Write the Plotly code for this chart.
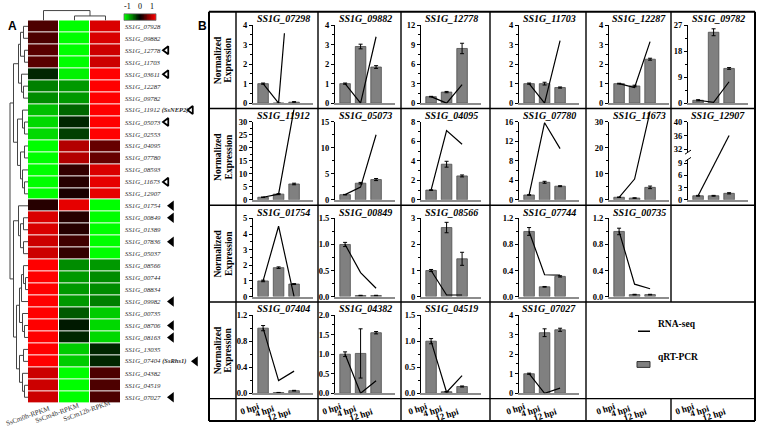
import plotly.graph_objects as go
import numpy as np

W, H = 757, 431
SERIF = "Liberation Serif"
SANS = "Liberation Sans"

def px(x):
    return x / W

def py(y):
    return 1 - y / H

# ---------------- Panel A data ----------------
genes_A = ["SS1G_07928", "SS1G_09882", "SS1G_12778", "SS1G_11703", "SS1G_03611", "SS1G_12287",
           "SS1G_09782", "SS1G_11912", "SS1G_05073", "SS1G_02553", "SS1G_04095", "SS1G_07780",
           "SS1G_08593", "SS1G_11673", "SS1G_12907", "SS1G_01754", "SS1G_00849", "SS1G_01389",
           "SS1G_07836", "SS1G_05037", "SS1G_08566", "SS1G_00744", "SS1G_08834", "SS1G_09982",
           "SS1G_00735", "SS1G_08706", "SS1G_08163", "SS1G_13035", "SS1G_07404", "SS1G_04382",
           "SS1G_04519", "SS1G_07027"]
rpkm_cols = ["SsCm0h-RPKM", "SsCm4h-RPKM", "SsCm12h-RPKM"]
z_0h = [0.3, 0.3, 0.35, 0.35, -0.15, -0.5, -0.55, -0.75, -0.85, -0.85, -1, -1, -1, -1, -1,
        0.15, 0.85, 0.85, 0.8, 0.8, 1, 1, 1, 1, 1, 1, 1, 1, 1, 0.8, 0.8, 0.8]
z_4h = [-1, -1, -1, -1, -0.95, -0.6, -0.6, -0.4, -0.15, -0.25, 0.7, 0.7, 0.2, 0.15, 0.1,
        0.9, 0.15, 0.15, 0.25, 0.2, -0.55, -0.6, -0.6, -0.6, -0.35, -0.1, -0.15, -0.8, -0.8, -1, -1, -1]
z_12h = [0.85, 0.85, 0.8, 0.8, 1, 1, 1, 1, 1, 1, 0.4, 0.4, 0.85, 0.9, 0.9,
         -1, -1, -1, -1, -1, -0.6, -0.55, -0.55, -0.5, -0.8, -0.85, -0.85, -0.15, -0.15, 0.3, 0.3, 0.3]
colorbar_ticks = [-1, 0, 1]
open_marks = ["SS1G_12778", "SS1G_03611", "SS1G_11912", "SS1G_05073", "SS1G_11673"]
filled_marks = ["SS1G_01754", "SS1G_00849", "SS1G_07836", "SS1G_09982", "SS1G_08706",
                "SS1G_08163", "SS1G_07404", "SS1G_07027"]
gene_alias = {"SS1G_11912": "SsNEP2", "SS1G_07404": "SsRhs1"}

# dendrogram merges: (a, b, height in px)
row_linkage = [(0, 1, 4), (2, 3, 3), (32, 33, 7), (5, 6, 4), (4, 35, 6), (34, 36, 9),
               (8, 9, 3), (7, 38, 5), (10, 11, 3), (13, 14, 3), (12, 41, 5), (40, 42, 7),
               (39, 43, 10), (37, 44, 14),
               (16, 17, 4), (18, 19, 4), (46, 47, 7), (15, 48, 9), (21, 22, 2), (20, 50, 4),
               (23, 51, 6), (25, 26, 3), (24, 53, 5), (52, 54, 8), (27, 28, 4), (30, 31, 3),
               (29, 57, 5), (56, 58, 8), (55, 59, 11), (49, 60, 14), (45, 61, 17.5)]
col_linkage = [(1, 2, 4.5), (0, 3, 10)]

# ---------------- Panel B data ----------------
genes_B = ["SS1G_07298", "SS1G_09882", "SS1G_12778", "SS1G_11703", "SS1G_12287", "SS1G_09782",
           "SS1G_11912", "SS1G_05073", "SS1G_04095", "SS1G_07780", "SS1G_11673", "SS1G_12907",
           "SS1G_01754", "SS1G_00849", "SS1G_08566", "SS1G_07744", "SS1G_00735",
           "SS1G_07404", "SS1G_04382", "SS1G_04519", "SS1G_07027"]
panel_row = [0] * 6 + [1] * 6 + [2] * 5 + [3] * 4
panel_col = list(range(6)) * 2 + list(range(5)) + list(range(4))
qpcr = [[1.0, 0.0, 0.05], [1.0, 2.9, 1.85], [1.0, 1.7, 8.4], [1.0, 1.0, 0.8], [1.0, 0.88, 2.25],
        [1.0, 24.5, 12.0],
        [1.0, 2.2, 6.1], [1.0, 3.2, 3.9], [1.0, 3.65, 2.45], [1.0, 3.6, 2.8], [1.0, 0.7, 4.8],
        [1.0, 1.0, 1.6],
        [1.0, 1.85, 0.8], [1.0, 0.02, 0.02], [1.0, 2.65, 1.45], [1.0, 0.15, 0.31], [1.0, 0.03, 0.03],
        [1.0, 0.01, 0.04], [1.0, 1.02, 1.55], [1.0, 0.03, 0.13], [1.0, 3.1, 3.25]]
qpcr_err = [[0.03, 0, 0.03], [0.03, 0.12, 0.07], [0.05, 0.1, 0.8], [0.03, 0.07, 0.03], [0.02, 0.04, 0.05],
            [0.2, 1.2, 0.3],
            [0.1, 0.2, 0.3], [0.05, 0.15, 0.2], [0.03, 0.3, 0.1], [0.05, 0.2, 0.1], [0.1, 0.1, 0.5],
            [0.1, 0.1, 0.15],
            [0.05, 0.05, 0.03], [0.04, 0.005, 0.005], [0.04, 0.2, 0.25], [0.06, 0.005, 0.01],
            [0.05, 0.005, 0.005],
            [0.04, 0.003, 0.005], [0.06, 0.63, 0.03], [0.05, 0.005, 0.01], [0.03, 0.2, 0.08]]
rnaseq = [[1, 0, 9.5], [1, 0, 3.4], [1, 0, 2.85], [1, 0, 3.2], [1, 0.8, 3.15], [1, 0.3, 7.4],
          [1, 2.2, 35], [1, 2.45, 12.5], [1, 7.1, 5.7], [1, 15.8, 10.5], [1, 8, 34], [1, 8.3, 36],
          [1, 4.5, 0.0], [1.0, 0.46, 0.16], [1, 0.06, 0.06], [1, 0.335, 0.33], [1, 0.19, 0.12],
          [1, 0.195, 0.34], [1, 0.0, 0.32], [1, 0.02, 0.34], [1, 0.0, 0.26]]
y_max = [4, 4, 12, 4, 4, 27, 30, 15, 8, 16, 30, 40, 5, 1.5, 3, 1.2, 1.2, 1.2, 2.0, 1.5, 4]
y_dtick = [1, 1, 3, 1, 1, 9, 5, 5, 2, 4, 10, None, 1, 0.5, 1, 0.4, 0.4, 0.4, 0.5, 0.5, 1]
broken_ticks = [0, 3, 6, 9, 32, 36, 40]
time_labels = ["0 hpi", "4 hpi", "12 hpi"]

# ---------------- geometry ----------------
HM_L, HM_R, HM_T, HM_B = 28, 121, 15.7, 407.7
n_rows = len(genes_A)
row_h = (HM_B - HM_T) / n_rows
col_w = (HM_R - HM_L) / 3

grid_x = [209, 236, 318, 401, 490, 586, 671, 755]
grid_y = [7, 106, 205, 304, 403, 426]
line_clip_top = [29, 107, 206, 305]
col_axis_x = [253, 335, 421, 519, 609, 688]
XW = 60
PX_PER = 15.5
X0 = -0.65

shapes = []
annotations = []


def seg(x0, y0, x1, y1, color="#444", width=1):
    shapes.append(dict(type="line", xref="paper", yref="paper", x0=px(x0), y0=py(y0),
                       x1=px(x1), y1=py(y1), line=dict(color=color, width=width)))


def dendro(linkage, n, leaf_pos):
    pos = {i: leaf_pos[i] for i in range(n)}
    hgt = {i: 0.0 for i in range(n)}
    segs = []
    for k, (a, b, h) in enumerate(linkage):
        segs.append((pos[a], hgt[a], pos[a], h))
        segs.append((pos[b], hgt[b], pos[b], h))
        segs.append((pos[a], h, pos[b], h))
        pos[n + k] = (pos[a] + pos[b]) / 2
        hgt[n + k] = h
    return segs


fig = go.Figure()
CSCALE = [[0, "#00ff00"], [0.5, "#000000"], [1, "#ff0000"]]

# ---------------- heatmap ----------------
z = [[a, b, c] for a, b, c in zip(z_0h, z_4h, z_12h)]
fig.add_trace(go.Heatmap(
    z=z, x=[0, 1, 2], y=genes_A, colorscale=CSCALE, zmin=-1, zmax=1, showscale=False,
    xgap=1, ygap=1, xaxis="x", yaxis="y", hoverinfo="skip"))

layout = dict(
    width=W, height=H, margin=dict(l=0, r=0, t=0, b=0),
    paper_bgcolor="white", plot_bgcolor="rgba(0,0,0,0)", showlegend=False,
    xaxis=dict(domain=[px(HM_L), px(HM_R)], range=[-0.5, 2.5], visible=False),
    yaxis=dict(domain=[py(HM_B), py(HM_T)], type="category", categoryarray=genes_A,
               range=[n_rows - 0.5, -0.5], visible=False),
)

# colour key (small gradient strip)
CB_L, CB_R, CB_T, CB_B = 124, 156, 9, 15.7
grad = np.linspace(-1, 1, 41)
fig.add_trace(go.Heatmap(z=[grad], x=grad, y=[0], colorscale=CSCALE, zmin=-1, zmax=1, showscale=False,
                         xaxis="x98", yaxis="y98", hoverinfo="skip"))
layout["xaxis98"] = dict(domain=[px(CB_L), px(CB_R)], range=[-1.025, 1.025], visible=False, anchor="y98")
layout["yaxis98"] = dict(domain=[py(CB_B), py(CB_T)], range=[-0.5, 0.5], visible=False, anchor="x98")
shapes.append(dict(type="rect", xref="paper", yref="paper", x0=px(CB_L), x1=px(CB_R), y0=py(CB_B), y1=py(CB_T),
                   line=dict(color="#666", width=0.8)))
for t in colorbar_ticks:
    annotations.append(dict(x=t * 0.8, y=py(CB_T - 0.5), xref="x98", yref="paper", text=str(t),
                            showarrow=False, xanchor="center", yanchor="bottom",
                            font=dict(family=SERIF, size=8, color="black")))

# marker triangles in their own strip next to labels
TRI_L, TRI_R = 150, 205
fig.add_trace(go.Scatter(
    x=[191 if g in gene_alias else 166.5 for g in open_marks], y=open_marks, mode="markers",
    marker=dict(symbol="triangle-left-open", size=7, color="black", line=dict(width=1.8, color="black")),
    xaxis="x99", yaxis="y99", hoverinfo="skip"))
fig.add_trace(go.Scatter(
    x=[195.5 if g in gene_alias else 171.5 for g in filled_marks], y=filled_marks, mode="markers",
    marker=dict(symbol="triangle-left", size=9, color="black"),
    xaxis="x99", yaxis="y99", hoverinfo="skip"))
layout["xaxis99"] = dict(domain=[px(TRI_L), px(TRI_R)], range=[TRI_L, TRI_R], visible=False, anchor="y99")
layout["yaxis99"] = dict(domain=[py(HM_B), py(HM_T)], type="category", categoryarray=genes_A,
                         range=[n_rows - 0.5, -0.5], visible=False, anchor="x99")

# gene labels
for i, g in enumerate(genes_A):
    yc = HM_T + (i + 0.5) * row_h
    txt = f"<i>{g}</i>"
    if g in gene_alias:
        txt += f" <b><i><span style='font-size:6.5px'>({gene_alias[g]})</span></i></b>"
    annotations.append(dict(x=px(122.5), y=py(yc), xref="paper", yref="paper", text=txt,
                            showarrow=False, xanchor="left", yanchor="middle",
                            font=dict(family=SERIF, size=6.8, color="#2a2a2a")))

# column labels
col_label_center = [(28, 421), (57.5, 417.5), (87, 415.5)]
for lab, (cx, cy) in zip(rpkm_cols, col_label_center):
    annotations.append(dict(x=px(cx), y=py(cy), xref="paper", yref="paper", text=lab,
                            showarrow=False, xanchor="center", yanchor="middle", textangle=-20,
                            font=dict(family=SERIF, size=7, color="#333")))

# dendrograms
leaf_y = [HM_T + (i + 0.5) * row_h for i in range(n_rows)]
for (p0, h0, p1, h1) in dendro(row_linkage, n_rows, leaf_y):
    seg(HM_L - 0.5 - h0 if h0 > 0 else HM_L, p0, HM_L - 0.5 - h1, p1)
leaf_x = [HM_L + (j + 0.5) * col_w for j in range(3)]
for (p0, h0, p1, h1) in dendro(col_linkage, 3, leaf_x):
    seg(p0, HM_T - h0, p1, HM_T - h1)

annotations.append(dict(x=px(6), y=py(12), xref="paper", yref="paper", text="<b>A</b>",
                        showarrow=False, font=dict(family=SANS, size=12, color="black")))
annotations.append(dict(x=px(196), y=py(12), xref="paper", yref="paper", text="<b>B</b>",
                        showarrow=False, font=dict(family=SANS, size=12, color="black")))

# ---------------- panel B ----------------
def fmap_broken(v):
    return v if v <= 10 else 12.36 + (v - 32) * 0.846

for i, g in enumerate(genes_B):
    r, c = panel_row[i], panel_col[i]
    nb = 2 + 2 * i
    nl = nb + 1
    ax0 = col_axis_x[c]
    top = grid_y[r] + 13.5
    bot = grid_y[r + 1] - 5.5
    broken = y_dtick[i] is None
    f = fmap_broken if broken else (lambda v: v)
    ymax_m = f(y_max[i])
    xr = [X0, X0 + XW / PX_PER]

    fig.add_trace(go.Bar(
        x=[0, 1, 2], y=[f(v) for v in qpcr[i]], width=0.68,
        marker=dict(color="#808080", line=dict(color="#4d4d4d", width=0.8)),
        error_y=dict(type="data", array=qpcr_err[i], color="black", thickness=1, width=2),
        xaxis=f"x{nb}", yaxis=f"y{nb}", hoverinfo="skip"))

    ext_top = line_clip_top[r]
    ymax_line = ymax_m * (bot - ext_top) / (bot - top)
    fig.add_trace(go.Scatter(
        x=[0, 1, 2], y=[f(v) for v in rnaseq[i]], mode="lines",
        line=dict(color="black", width=1.2), xaxis=f"x{nl}", yaxis=f"y{nl}", hoverinfo="skip"))

    if broken:
        tv = [f(v) for v in broken_ticks]
        tt = [f"<b>{v}</b>" for v in broken_ticks]
        minor = None
    else:
        dt = y_dtick[i]
        vals = np.arange(0, y_max[i] + dt * 0.01, dt)
        fmt = "{:.1f}" if dt < 1 else "{:.0f}"
        tv = list(vals)
        tt = [f"<b>{fmt.format(v)}</b>" for v in vals]
        minor = dict(tickmode="linear", tick0=0, dtick=dt / 2, ticks="outside", ticklen=2,
                     tickcolor="black")

    layout[f"xaxis{nb}"] = dict(domain=[px(ax0), px(ax0 + XW)], range=xr, anchor=f"y{nb}",
                                showline=True, linecolor="#8c8c8c", linewidth=1.5,
                                showticklabels=False, ticks="", showgrid=False, zeroline=False)
    ya = dict(domain=[py(bot), py(top)], range=[0, ymax_m], anchor=f"x{nb}",
              showline=True, linecolor="black", linewidth=1, ticks="outside", ticklen=3,
              tickwidth=1, tickcolor="black", tickmode="array", tickvals=tv, ticktext=tt,
              tickfont=dict(family=SERIF, size=8.5, color="black"),
              showgrid=False, zeroline=False)
    if minor:
        ya["minor"] = minor
    layout[f"yaxis{nb}"] = ya
    layout[f"xaxis{nl}"] = dict(domain=[px(ax0), px(ax0 + XW)], range=xr, anchor=f"y{nl}", visible=False)
    layout[f"yaxis{nl}"] = dict(domain=[py(bot), py(ext_top)], range=[0, ymax_line],
                                anchor=f"x{nl}", visible=False)

    if broken:
        shapes.append(dict(type="rect", xref="paper", yref=f"y{nb}", x0=px(ax0 - 2), x1=px(ax0 + 2),
                           y0=f(9.9), y1=f(31.2), fillcolor="white", line=dict(width=0), layer="above"))
        for yb in (f(9.9), f(31.2)):
            shapes.append(dict(type="line", xref="paper", yref=f"y{nb}", x0=px(ax0 - 3), x1=px(ax0 + 3),
                               y0=yb - 0.5, y1=yb + 0.5, line=dict(color="black", width=1)))

    annotations.append(dict(x=px(ax0 + XW / 2), y=py(grid_y[r] + 7), xref="paper", yref="paper",
                            text=f"<b><i>{g}</i></b>", showarrow=False, xanchor="center",
                            yanchor="middle", font=dict(family=SERIF, size=10, color="black")))

# Normalized Expression labels (two rotated lines)
for r in range(4):
    ym = (grid_y[r] + grid_y[r + 1]) / 2
    for xline, word in ((218, "Normalized"), (228.5, "Expression")):
        annotations.append(dict(x=px(xline), y=py(ym), xref="paper", yref="paper",
                                text=f"<b>{word}</b>", showarrow=False, textangle=-90,
                                xanchor="center", yanchor="middle",
                                font=dict(family=SERIF, size=9.5, color="black")))

# bottom time labels (one set per column), stepping down like the reference
for c in range(6):
    nb = 2 + 2 * c
    for k, lab in enumerate(time_labels):
        annotations.append(dict(x=k, y=py(403 + 2.5 * k), xref=f"x{nb}", yref="paper",
                                text=f"<b>{lab}</b>", showarrow=False, xanchor="right",
                                yanchor="top", textangle=-18,
                                font=dict(family=SERIF, size=9, color="black")))

# legend
seg(638, 334, 650, 334, color="black", width=1.5)
shapes.append(dict(type="rect", xref="paper", yref="paper", x0=px(637), x1=px(650), y0=py(371), y1=py(365),
                   fillcolor="#808080", line=dict(color="#333", width=1)))
annotations.append(dict(x=px(656), y=py(334), xref="paper", yref="paper", text="<b>RNA-seq</b>",
                        showarrow=False, xanchor="left", font=dict(family=SERIF, size=9.5, color="black")))
annotations.append(dict(x=px(656), y=py(368), xref="paper", yref="paper", text="<b>qRT-PCR</b>",
                        showarrow=False, xanchor="left", font=dict(family=SERIF, size=9.5, color="black")))

# table grid
for j, yv in enumerate(grid_y):
    wdt = 2 if j in (0, len(grid_y) - 1) else 1.4
    seg(grid_x[0], yv, grid_x[-1], yv, color="black", width=wdt)
for j, xv in enumerate(grid_x):
    wdt = 2 if j in (0, len(grid_x) - 1) else 1.4
    if xv == 671:
        seg(xv, grid_y[0], xv, grid_y[3], color="black", width=wdt)
        seg(xv, grid_y[4], xv, grid_y[5], color="black", width=wdt)
    else:
        seg(xv, grid_y[0], xv, grid_y[-1], color="black", width=wdt)

layout["shapes"] = shapes
layout["annotations"] = annotations
fig.update_layout(**layout)

fig.write_html("out.html", config={"displayModeBar": False},
               post_script="document.body.style.margin='0';document.body.style.overflow='hidden';")
